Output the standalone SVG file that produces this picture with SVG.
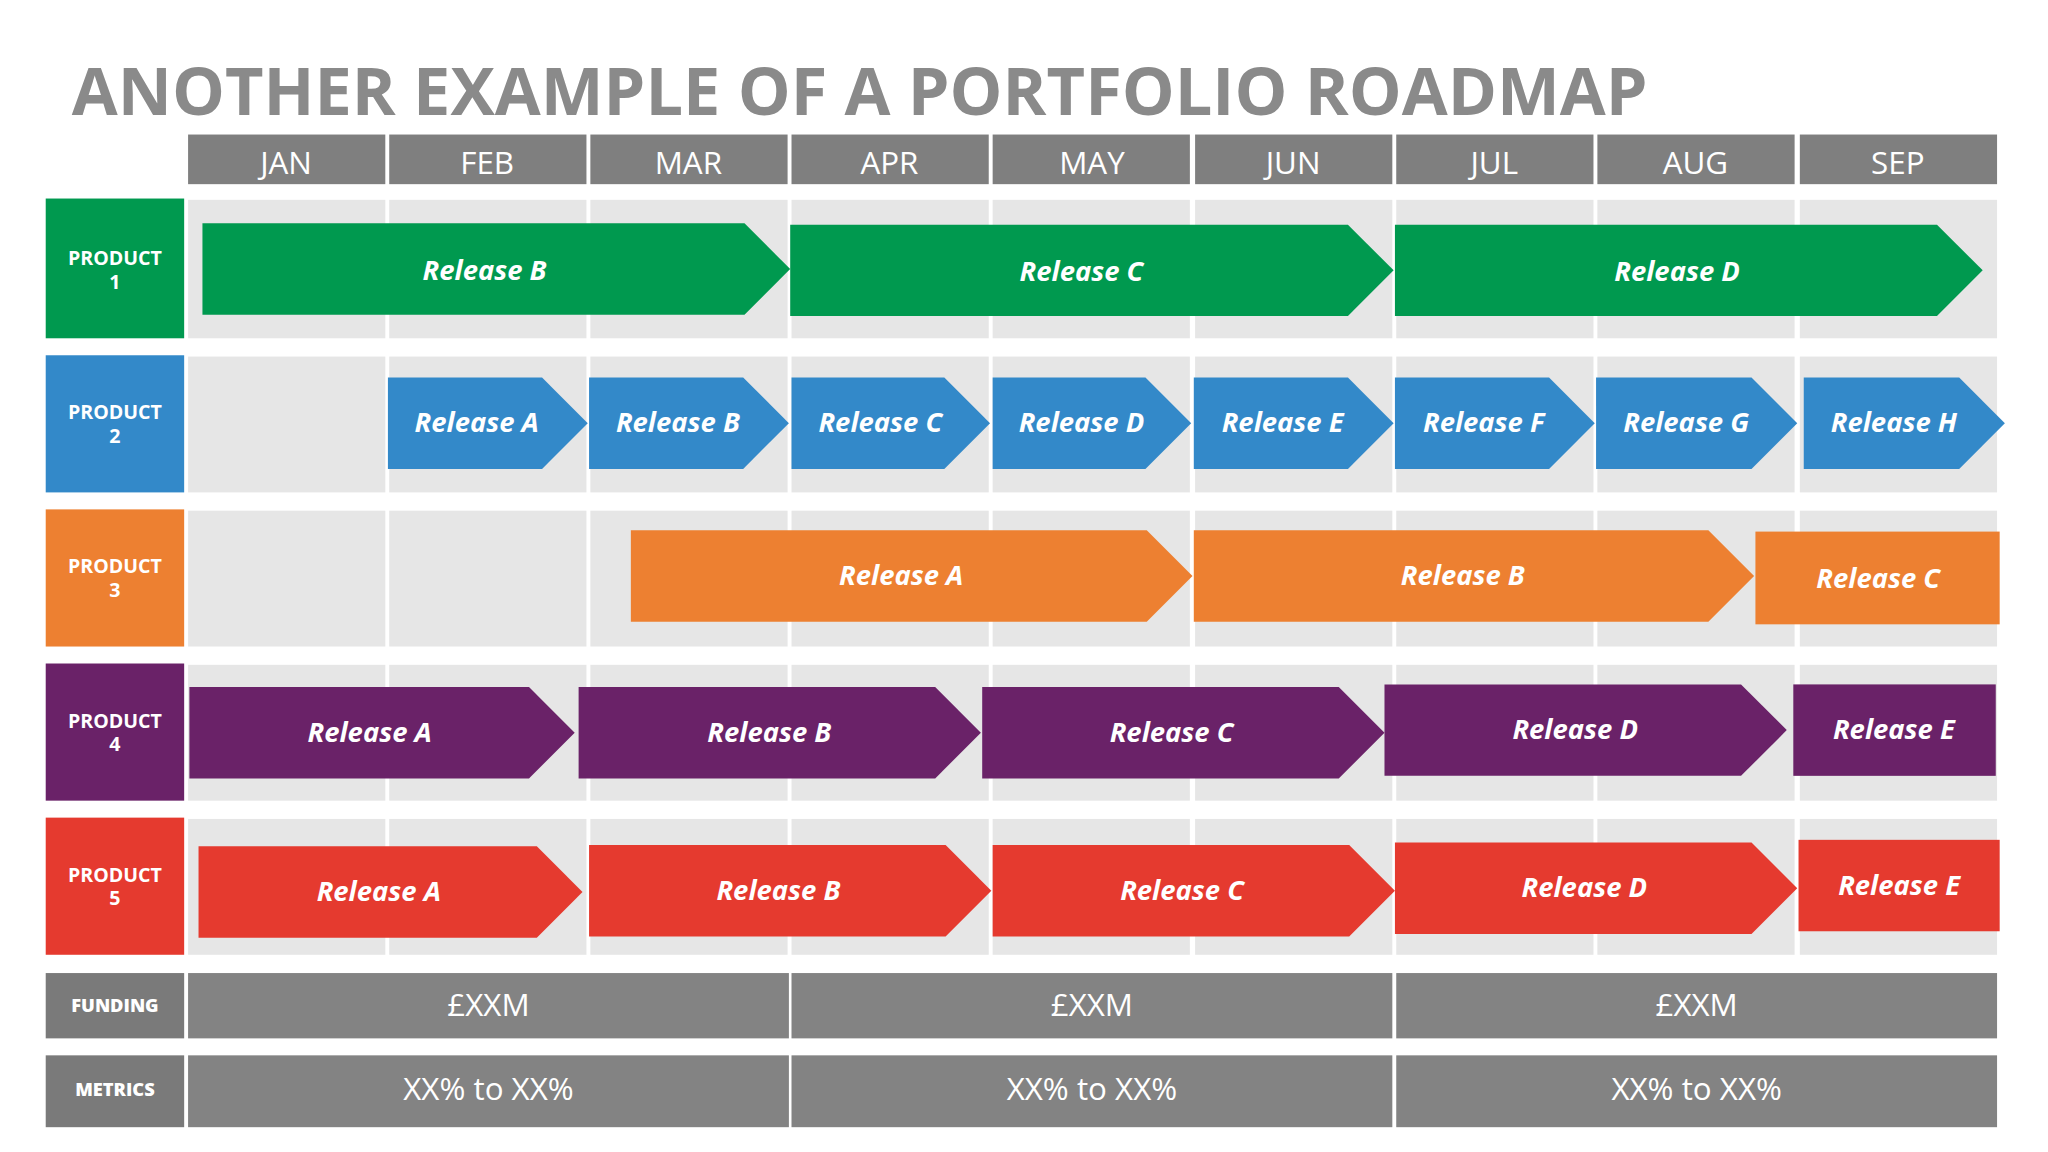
<svg xmlns="http://www.w3.org/2000/svg" width="2048" height="1152" viewBox="0 0 2048 1152">
<style>
.t{font-family:"Open Sans","Liberation Sans",sans-serif}
.mh{fill:#7f7f7f}.mt{fill:#fff;font-size:24px;text-anchor:middle}
.bg{fill:#e6e6e6}
.rl{fill:#fff;font-size:21px;font-weight:bold;font-style:italic;text-anchor:middle}
.pl{fill:#fff;font-size:15px;font-weight:bold;text-anchor:middle}
.g{fill:#00994f}.b{fill:#3389c9}.o{fill:#ed8031}.p{fill:#6a2268}.r{fill:#e53a2f}
.fc{fill:#838383}.fl{fill:#7a7a7a}.ft{fill:#fff;font-size:24px;text-anchor:middle}
</style>
<rect width="2048" height="1152" fill="#fff"/>
<g transform="scale(1.30612)">
<text class="t" x="55" y="88" font-size="51" font-weight="bold" fill="#8a8a8a">ANOTHER EXAMPLE OF A PORTFOLIO ROADMAP</text>
<g id="months">
<rect class="mh" x="144" y="103" width="151" height="38"/><text class="t mt" x="219" y="133">JAN</text>
<rect class="mh" x="298" y="103" width="151" height="38"/><text class="t mt" x="373" y="133">FEB</text>
<rect class="mh" x="452" y="103" width="151" height="38"/><text class="t mt" x="527" y="133">MAR</text>
<rect class="mh" x="606" y="103" width="151" height="38"/><text class="t mt" x="681" y="133">APR</text>
<rect class="mh" x="760" y="103" width="151" height="38"/><text class="t mt" x="836" y="133">MAY</text>
<rect class="mh" x="915" y="103" width="151" height="38"/><text class="t mt" x="990" y="133">JUN</text>
<rect class="mh" x="1069" y="103" width="151" height="38"/><text class="t mt" x="1144" y="133">JUL</text>
<rect class="mh" x="1223" y="103" width="151" height="38"/><text class="t mt" x="1298" y="133">AUG</text>
<rect class="mh" x="1378" y="103" width="151" height="38"/><text class="t mt" x="1453" y="133">SEP</text>
</g>
<g id="grid">
<g id="row1"><rect class="bg" x="144" y="153" width="151" height="106"/><rect class="bg" x="298" y="153" width="151" height="106"/><rect class="bg" x="452" y="153" width="151" height="106"/><rect class="bg" x="606" y="153" width="151" height="106"/><rect class="bg" x="760" y="153" width="151" height="106"/><rect class="bg" x="915" y="153" width="151" height="106"/><rect class="bg" x="1069" y="153" width="151" height="106"/><rect class="bg" x="1223" y="153" width="151" height="106"/><rect class="bg" x="1378" y="153" width="151" height="106"/></g>
<g id="row2"><rect class="bg" x="144" y="273" width="151" height="104"/><rect class="bg" x="298" y="273" width="151" height="104"/><rect class="bg" x="452" y="273" width="151" height="104"/><rect class="bg" x="606" y="273" width="151" height="104"/><rect class="bg" x="760" y="273" width="151" height="104"/><rect class="bg" x="915" y="273" width="151" height="104"/><rect class="bg" x="1069" y="273" width="151" height="104"/><rect class="bg" x="1223" y="273" width="151" height="104"/><rect class="bg" x="1378" y="273" width="151" height="104"/></g>
<g id="row3"><rect class="bg" x="144" y="391" width="151" height="104"/><rect class="bg" x="298" y="391" width="151" height="104"/><rect class="bg" x="452" y="391" width="151" height="104"/><rect class="bg" x="606" y="391" width="151" height="104"/><rect class="bg" x="760" y="391" width="151" height="104"/><rect class="bg" x="915" y="391" width="151" height="104"/><rect class="bg" x="1069" y="391" width="151" height="104"/><rect class="bg" x="1223" y="391" width="151" height="104"/><rect class="bg" x="1378" y="391" width="151" height="104"/></g>
<g id="row4"><rect class="bg" x="144" y="509" width="151" height="104"/><rect class="bg" x="298" y="509" width="151" height="104"/><rect class="bg" x="452" y="509" width="151" height="104"/><rect class="bg" x="606" y="509" width="151" height="104"/><rect class="bg" x="760" y="509" width="151" height="104"/><rect class="bg" x="915" y="509" width="151" height="104"/><rect class="bg" x="1069" y="509" width="151" height="104"/><rect class="bg" x="1223" y="509" width="151" height="104"/><rect class="bg" x="1378" y="509" width="151" height="104"/></g>
<g id="row5"><rect class="bg" x="144" y="627" width="151" height="104"/><rect class="bg" x="298" y="627" width="151" height="104"/><rect class="bg" x="452" y="627" width="151" height="104"/><rect class="bg" x="606" y="627" width="151" height="104"/><rect class="bg" x="760" y="627" width="151" height="104"/><rect class="bg" x="915" y="627" width="151" height="104"/><rect class="bg" x="1069" y="627" width="151" height="104"/><rect class="bg" x="1223" y="627" width="151" height="104"/><rect class="bg" x="1378" y="627" width="151" height="104"/></g>
</g>
<g id="p1"><rect class="g" x="35" y="152" width="106" height="107"/><text class="t pl" x="88" y="203">PRODUCT</text><text class="t pl" x="88" y="221">1</text>
<polygon class="g" points="155,171 570,171 605,206 570,241 155,241"/><text class="t rl" x="371" y="214">Release B</text>
<polygon class="g" points="605,172 1032,172 1067,207 1032,242 605,242"/><text class="t rl" x="828" y="215">Release C</text>
<polygon class="g" points="1068,172 1483,172 1518,207 1483,242 1068,242"/><text class="t rl" x="1284" y="215">Release D</text></g>
<g id="p2"><rect class="b" x="35" y="272" width="106" height="105"/><text class="t pl" x="88" y="321">PRODUCT</text><text class="t pl" x="88" y="339">2</text>
<polygon class="b" points="297,289 415,289 450,324 415,359 297,359"/><text class="t rl" x="365" y="331">Release A</text>
<polygon class="b" points="451,289 569,289 604,324 569,359 451,359"/><text class="t rl" x="519" y="331">Release B</text>
<polygon class="b" points="606,289 723,289 758,324 723,359 606,359"/><text class="t rl" x="674" y="331">Release C</text>
<polygon class="b" points="760,289 877,289 912,324 877,359 760,359"/><text class="t rl" x="828" y="331">Release D</text>
<polygon class="b" points="914,289 1032,289 1067,324 1032,359 914,359"/><text class="t rl" x="982" y="331">Release E</text>
<polygon class="b" points="1068,289 1186,289 1221,324 1186,359 1068,359"/><text class="t rl" x="1136" y="331">Release F</text>
<polygon class="b" points="1222,289 1341,289 1376,324 1341,359 1222,359"/><text class="t rl" x="1291" y="331">Release G</text>
<polygon class="b" points="1381,289 1500,289 1535,324 1500,359 1381,359"/><text class="t rl" x="1450" y="331">Release H</text></g>
<g id="p3"><rect class="o" x="35" y="390" width="106" height="105"/><text class="t pl" x="88" y="439">PRODUCT</text><text class="t pl" x="88" y="457">3</text>
<polygon class="o" points="483,406 878,406 913,441 878,476 483,476"/><text class="t rl" x="690" y="448">Release A</text>
<polygon class="o" points="914,406 1308,406 1343,441 1308,476 914,476"/><text class="t rl" x="1120" y="448">Release B</text>
<rect class="o" x="1344" y="407" width="187" height="71"/><text class="t rl" x="1438" y="450">Release C</text></g>
<g id="p4"><rect class="p" x="35" y="508" width="106" height="105"/><text class="t pl" x="88" y="557">PRODUCT</text><text class="t pl" x="88" y="575">4</text>
<polygon class="p" points="145,526 405,526 440,561 405,596 145,596"/><text class="t rl" x="283" y="568">Release A</text>
<polygon class="p" points="443,526 716,526 751,561 716,596 443,596"/><text class="t rl" x="589" y="568">Release B</text>
<polygon class="p" points="752,526 1025,526 1060,561 1025,596 752,596"/><text class="t rl" x="897" y="568">Release C</text>
<polygon class="p" points="1060,524 1333,524 1368,559 1333,594 1060,594"/><text class="t rl" x="1206" y="566">Release D</text>
<rect class="p" x="1373" y="524" width="155" height="70"/><text class="t rl" x="1450" y="566">Release E</text></g>
<g id="p5"><rect class="r" x="35" y="626" width="106" height="105"/><text class="t pl" x="88" y="675">PRODUCT</text><text class="t pl" x="88" y="693">5</text>
<polygon class="r" points="152,648 411,648 446,683 411,718 152,718"/><text class="t rl" x="290" y="690">Release A</text>
<polygon class="r" points="451,647 724,647 759,682 724,717 451,717"/><text class="t rl" x="596" y="689">Release B</text>
<polygon class="r" points="760,647 1033,647 1068,682 1033,717 760,717"/><text class="t rl" x="905" y="689">Release C</text>
<polygon class="r" points="1068,645 1341,645 1376,680 1341,715 1068,715"/><text class="t rl" x="1213" y="687">Release D</text>
<rect class="r" x="1377" y="643" width="154" height="70"/><text class="t rl" x="1454" y="685">Release E</text></g>
<g id="funding"><rect class="fl" x="35" y="745" width="106" height="50"/><text class="t" x="88" y="775" font-size="14" font-weight="900" fill="#fff" text-anchor="middle">FUNDING</text>
<rect class="fc" x="144" y="745" width="460" height="50"/><text class="t ft" x="374" y="778">£XXM</text>
<rect class="fc" x="606" y="745" width="460" height="50"/><text class="t ft" x="836" y="778">£XXM</text>
<rect class="fc" x="1069" y="745" width="460" height="50"/><text class="t ft" x="1299" y="778">£XXM</text></g>
<g id="metrics"><rect class="fl" x="35" y="808" width="106" height="55"/><text class="t" x="88" y="839" font-size="14" font-weight="900" fill="#fff" text-anchor="middle">METRICS</text>
<rect class="fc" x="144" y="808" width="460" height="55"/><text class="t ft" x="374" y="842">XX% to XX%</text>
<rect class="fc" x="606" y="808" width="460" height="55"/><text class="t ft" x="836" y="842">XX% to XX%</text>
<rect class="fc" x="1069" y="808" width="460" height="55"/><text class="t ft" x="1299" y="842">XX% to XX%</text></g>
<g id="connectors"/>
</g>
</svg>
